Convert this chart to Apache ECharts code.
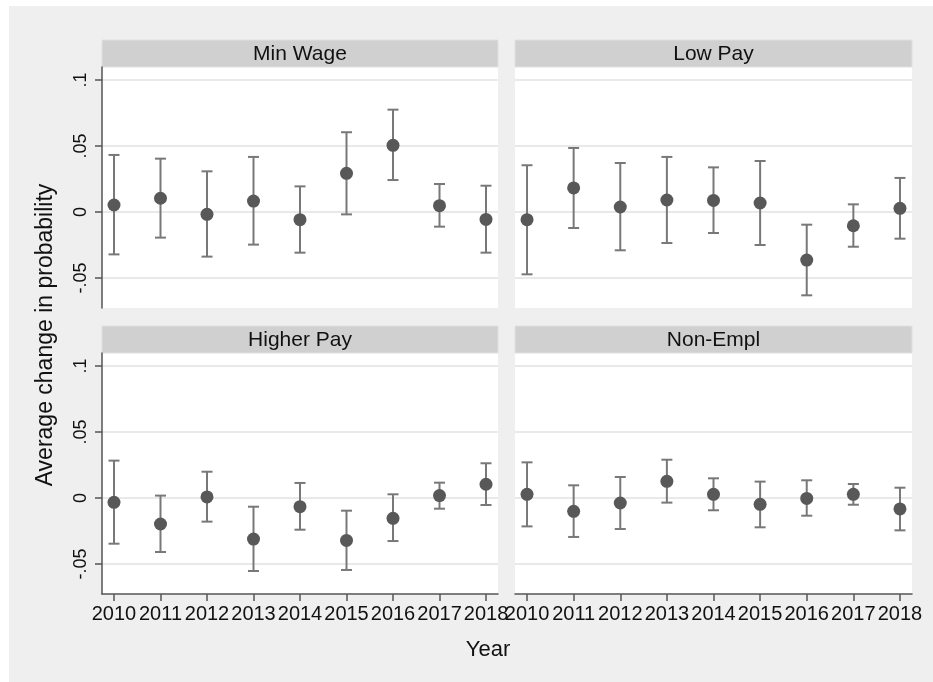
<!DOCTYPE html>
<html>
<head>
<meta charset="utf-8">
<script src="https://cdn.jsdelivr.net/npm/echarts@6/dist/echarts.min.js"></script>
<style>
  html, body { margin: 0; padding: 0; background: #fff; }
  #main { width: 933px; height: 682px; }
</style>
</head>
<body>
<div id="main"></div>
<script>
// years on the x axis
var years = [2010, 2011, 2012, 2013, 2014, 2015, 2016, 2017, 2018];
var yTicks = [-0.05, 0, 0.05, 0.1];

// Min Wage
var minWage   = [0.0053, 0.0104, -0.0018, 0.0083, -0.0058, 0.0293, 0.0505, 0.0048, -0.0056];
var minWageLo = [-0.0321, -0.0194, -0.0338, -0.0247, -0.0308, -0.0018, 0.0242, -0.0111, -0.0308];
var minWageHi = [0.0432, 0.0404, 0.0308, 0.0417, 0.0194, 0.0604, 0.0775, 0.0212, 0.0199];

// Low Pay
var lowPay   = [-0.0058, 0.0182, 0.0038, 0.0091, 0.0088, 0.0068, -0.0364, -0.0104, 0.0028];
var lowPayLo = [-0.0472, -0.0121, -0.0290, -0.0235, -0.0159, -0.0250, -0.0631, -0.0263, -0.0202];
var lowPayHi = [0.0354, 0.0485, 0.0371, 0.0417, 0.0338, 0.0386, -0.0096, 0.0058, 0.0258];

// Higher Pay
var higherPay   = [-0.0033, -0.0197, 0.0008, -0.0311, -0.0066, -0.0321, -0.0154, 0.0018, 0.0104];
var higherPayLo = [-0.0346, -0.0409, -0.0179, -0.0553, -0.0240, -0.0545, -0.0326, -0.0081, -0.0053];
var higherPayHi = [0.0283, 0.0018, 0.0199, -0.0066, 0.0114, -0.0096, 0.0028, 0.0116, 0.0263];

// Non-Empl
var nonEmpl   = [0.0028, -0.0101, -0.0038, 0.0126, 0.0028, -0.0048, -0.0003, 0.0028, -0.0083];
var nonEmplLo = [-0.0215, -0.0295, -0.0235, -0.0035, -0.0093, -0.0222, -0.0134, -0.0051, -0.0245];
var nonEmplHi = [0.0270, 0.0096, 0.0159, 0.0290, 0.0149, 0.0124, 0.0134, 0.0106, 0.0078];

var FONT = "'Liberation Sans', Arial, sans-serif";
var axisColor = '#555';
var barColor = '#787878';
var dotColor = '#585858';

var panels = [
  {name: 'Min Wage',   est: minWage,   lo: minWageLo,   hi: minWageHi,   left: 102, top: 67,  width: 396, leftCol: true,  bottomRow: false},
  {name: 'Low Pay',    est: lowPay,    lo: lowPayLo,    hi: lowPayHi,    left: 515, top: 67,  width: 397, leftCol: false, bottomRow: false},
  {name: 'Higher Pay', est: higherPay, lo: higherPayLo, hi: higherPayHi, left: 102, top: 353, width: 396, leftCol: true,  bottomRow: true},
  {name: 'Non-Empl',   est: nonEmpl,   lo: nonEmplLo,   hi: nonEmplHi,   left: 515, top: 353, width: 397, leftCol: false, bottomRow: true}
];
var plotH = 241, stripH = 27;

function fmtTick(v){
  if (v === 0) return '0';
  return String(v).replace('0.', '.');
}

//误差线
function renderBar(params, api){
  var x = api.value(0), lo = api.value(1), hi = api.value(2);
  var a = api.coord([x, lo]), b = api.coord([x, hi]);
  var w = 5.5;
  var st = {stroke: barColor, lineWidth: 2, fill: null};
  return {
    type: 'group',
    children: [
      {type: 'line', shape: {x1: a[0], y1: a[1], x2: b[0], y2: b[1]}, style: st},
      {type: 'line', shape: {x1: a[0] - w, y1: a[1], x2: a[0] + w, y2: a[1]}, style: st},
      {type: 'line', shape: {x1: b[0] - w, y1: b[1], x2: b[0] + w, y2: b[1]}, style: st}
    ]
  };
}

var grid = [], xAxis = [], yAxis = [], series = [];
var graphic = [
  {type: 'rect', shape: {x: 9, y: 6, width: 924, height: 676}, style: {fill: '#efefef'}, z: -10, silent: true}
];

panels.forEach(function(p, i){
  grid.push({
    left: p.left, top: p.top, width: p.width, height: plotH,
    show: true, backgroundColor: '#fff', borderWidth: 0
  });
  xAxis.push({
    type: 'value', gridIndex: i,
    min: 2009.742, max: 2018.258,
    axisLine: {show: p.bottomRow, onZero: false, lineStyle: {color: axisColor, width: 1.5}},
    axisTick: {show: p.bottomRow, length: 7, customValues: years, lineStyle: {color: axisColor, width: 1.5}},
    axisLabel: {show: p.bottomRow, customValues: years, margin: 10, fontSize: 20, fontFamily: FONT, color: '#111',
      formatter: function(v){ return String(v); }},
    splitLine: {show: false}
  });
  yAxis.push({
    type: 'value', gridIndex: i,
    min: -0.0727, max: 0.1098,
    axisLine: {show: p.leftCol, lineStyle: {color: axisColor, width: 1.5}},
    axisTick: {show: p.leftCol, length: 7, customValues: yTicks, lineStyle: {color: axisColor, width: 1.5}},
    axisLabel: {show: p.leftCol, customValues: yTicks, rotate: 90, margin: 12, fontSize: 18, fontFamily: FONT, color: '#111',
      formatter: fmtTick},
    splitLine: {show: true, lineStyle: {color: '#e9e9e9', width: 2}}
  });
  series.push({
    type: 'custom', xAxisIndex: i, yAxisIndex: i,
    renderItem: renderBar,
    data: years.map(function(y, k){ return [y, p.lo[k], p.hi[k]]; }),
    silent: true, z: 2
  });
  series.push({
    type: 'scatter', xAxisIndex: i, yAxisIndex: i,
    symbol: 'circle', symbolSize: 13,
    itemStyle: {color: dotColor, opacity: 1},
    data: years.map(function(y, k){ return [y, p.est[k]]; }),
    silent: true, z: 3
  });
  // 分面标题条
  graphic.push({
    type: 'rect', shape: {x: p.left, y: p.top - stripH, width: p.width, height: stripH},
    style: {fill: '#d0d0d0', stroke: '#dbe2e6', lineWidth: 1}, silent: true
  });
  graphic.push({
    type: 'text', x: p.left + p.width / 2, y: p.top - stripH / 2 + 1,
    style: {text: p.name, font: '21px ' + FONT, fill: '#111', textAlign: 'center', textVerticalAlign: 'middle'},
    silent: true
  });
});

graphic.push({
  type: 'text', x: 46, y: 335, rotation: Math.PI / 2,
  style: {text: 'Average change in probability', font: '23px ' + FONT, fill: '#111', textAlign: 'center', textVerticalAlign: 'middle'},
  silent: true
});
graphic.push({
  type: 'text', x: 488, y: 650,
  style: {text: 'Year', font: '22px ' + FONT, fill: '#111', textAlign: 'center', textVerticalAlign: 'middle'},
  silent: true
});

var chart = echarts.init(document.getElementById('main'), null, {renderer: 'canvas'});
chart.setOption({
  backgroundColor: '#fff',
  animation: false,
  grid: grid,
  xAxis: xAxis,
  yAxis: yAxis,
  series: series,
  graphic: graphic
});
</script>
</body>
</html>
